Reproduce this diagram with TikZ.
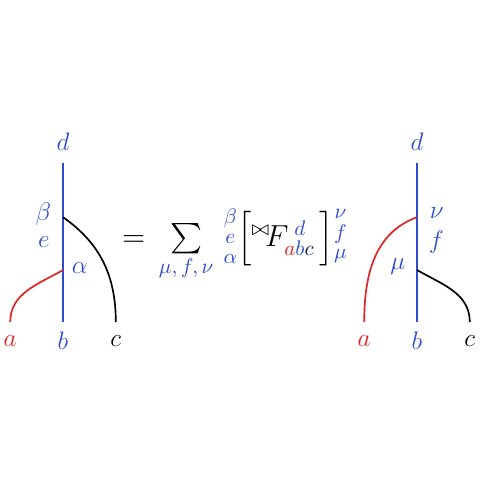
\documentclass[tikz,border=0pt]{standalone}
\usepackage{amsmath,amssymb}
\definecolor{lblue}{RGB}{45,75,205}
\definecolor{lred}{RGB}{225,35,35}
\newcommand*{\idxstack}[3]{{\renewcommand{\arraystretch}{0.52}\color{lblue}%
	\begin{array}{@{}c@{}}\scriptstyle #1\\ \scriptstyle #2\\ \scriptstyle #3\end{array}}}

\begin{document}
\begin{tikzpicture}
[
	strand/.style={line width=0.8pt},
	lab/.style={inner sep=1pt,font=\large}
]
	\useasboundingbox (0,0) rectangle (8,8);

	% left diagram
	\coordinate (Ltop) at (1.05,5.28);
	\coordinate (Lbot) at (1.05,2.63);
	\coordinate (Lup) at (1.05,4.38);
	\coordinate (Llow) at (1.05,3.50);
	\coordinate (La) at (0.17,2.63);
	\coordinate (Lc) at (1.93,2.63);
	\draw[strand,lblue] (Ltop) -- (Lbot);
	\draw[strand] (Lup) to[out=-35,in=90] (Lc);
	\draw[strand,lred] (Llow) to[out=-150,in=90] (La);
	\node[lab,lblue] at (1.05,5.63) (Ld) {$d$};
	\node[lab,lred] at (0.17,2.32) (La-lab) {$a$};
	\node[lab,lblue] at (1.05,2.32) (Lb-lab) {$b$};
	\node[lab] at (1.93,2.32) (Lc-lab) {$c$};
	\node[lab,lblue] at (0.72,4.43) (Lbeta) {$\beta$};
	\node[lab,lblue] at (0.73,3.97) (Le) {$e$};
	\node[lab,lblue] at (1.33,3.53) (Lalpha) {$\alpha$};

	% sum
	\node[anchor=west,font=\Large,inner sep=0pt] at (2.03,3.95) (sum) {$=\,\sum\limits_{\textcolor{lblue}{\mu,\,f,\,\nu}}\,
		\idxstack{\beta}{e}{\alpha}
		\Big[{}^{\bowtie}\!F^{\;\textcolor{lblue}{d}}_{\textcolor{lred}{a}\textcolor{lblue}{b}\textcolor{lblue!45!black}{c}}\,\Big]
		\raisebox{2pt}{$\idxstack{\nu}{f}{\mu}$}$};

	% right diagram
	\coordinate (Rtop) at (6.95,5.28);
	\coordinate (Rbot) at (6.95,2.63);
	\coordinate (Rup) at (6.95,4.38);
	\coordinate (Rlow) at (6.95,3.50);
	\coordinate (Ra) at (6.07,2.63);
	\coordinate (Rc) at (7.83,2.63);
	\draw[strand,lblue] (Rtop) -- (Rbot);
	\draw[strand,lred] (Rup) to[out=-160,in=90] (Ra);
	\draw[strand] (Rlow) to[out=-30,in=90] (Rc);
	\node[lab,lblue] at (6.95,5.63) (Rd) {$d$};
	\node[lab,lred] at (6.07,2.32) (Ra-lab) {$a$};
	\node[lab,lblue] at (6.95,2.32) (Rb-lab) {$b$};
	\node[lab] at (7.83,2.32) (Rc-lab) {$c$};
	\node[lab,lblue] at (7.28,4.45) (Rnu) {$\nu$};
	\node[lab,lblue] at (7.27,3.97) (Rf) {$f$};
	\node[lab,lblue] at (6.63,3.55) (Rmu) {$\mu$};
\end{tikzpicture}
\end{document}
